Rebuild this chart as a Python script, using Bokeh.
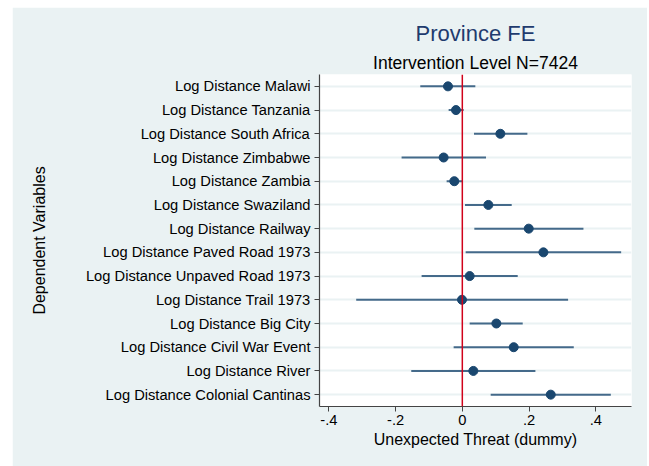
from bokeh.plotting import figure
from bokeh.models import FactorRange, Range1d, FixedTicker, Span, Title
from bokeh.embed import file_html
from bokeh.resources import INLINE

labels = [
    "Log Distance Malawi",
    "Log Distance Tanzania",
    "Log Distance South Africa",
    "Log Distance Zimbabwe",
    "Log Distance Zambia",
    "Log Distance Swaziland",
    "Log Distance Railway",
    "Log Distance Paved Road 1973",
    "Log Distance Unpaved Road 1973",
    "Log Distance Trail 1973",
    "Log Distance Big City",
    "Log Distance Civil War Event",
    "Log Distance River",
    "Log Distance Colonial Cantinas",
]
coef = [-0.043, -0.019, 0.114, -0.056, -0.024, 0.078, 0.199, 0.243, 0.022, -0.001, 0.102, 0.154, 0.033, 0.265]
ci_low = [-0.126, -0.041, 0.035, -0.182, -0.047, 0.008, 0.036, 0.010, -0.122, -0.318, 0.022, -0.026, -0.153, 0.085]
ci_high = [0.039, 0.004, 0.195, 0.071, 0.001, 0.148, 0.363, 0.476, 0.166, 0.317, 0.181, 0.334, 0.219, 0.445]
xticks = [-0.4, -0.2, 0, 0.2, 0.4]
xtick_labels = ["-.4", "-.2", "0", ".2", ".4"]

BG = "#eaf2f3"
NAVY = "#1a476f"
FONT = "Liberation Sans"

p = figure(
    width=635, height=459,
    y_range=FactorRange(factors=list(reversed(labels))),
    x_range=Range1d(-0.428, 0.507),
    output_backend="svg", toolbar_location=None,
    min_border_left=307, min_border_right=16, min_border_top=67, min_border_bottom=60,
    background_fill_color="white", border_fill_color=BG,
    outline_line_color=None,
)
p.margin = (7, 0, 0, 12)
p.title = None

p.add_layout(Title(text="Intervention Level N=7424", align="center", text_font=FONT,
                   text_font_size="17.5px", text_font_style="normal", text_color="black",
                   standoff=4), "above")
p.add_layout(Title(text="Province FE", align="center", text_font=FONT,
                   text_font_size="22px", text_font_style="normal", text_color="#1f3b6e",
                   standoff=6), "above")

p.segment(x0=ci_low, y0=labels, x1=ci_high, y1=labels, line_color=NAVY, line_alpha=0.8, line_width=2)
p.scatter(x=coef, y=labels, size=9, fill_color=NAVY, line_color=NAVY)
p.add_layout(Span(location=0, dimension="height", line_color="#d0021b", line_width=1.5))

p.xgrid.grid_line_color = None
p.ygrid.grid_line_color = BG
p.ygrid.grid_line_width = 2

p.xaxis.ticker = FixedTicker(ticks=xticks)
p.xaxis.major_label_overrides = {t: l for t, l in zip(xticks, xtick_labels)}
p.xaxis.axis_label = "Unexpected Threat (dummy)"
p.yaxis.axis_label = "Dependent Variables"

for ax in (p.xaxis, p.yaxis):
    ax.axis_line_color = "#444444"
    ax.axis_line_width = 1.2
    ax.major_tick_line_color = "#444444"
    ax.major_tick_out = 5
    ax.major_tick_in = 0
    ax.minor_tick_line_color = None
    ax.major_label_text_font = FONT
    ax.major_label_text_font_size = "14.7px"
    ax.major_label_text_color = "black"
    ax.axis_label_text_font = FONT
    ax.axis_label_text_font_size = "16px"
    ax.axis_label_text_font_style = "normal"
    ax.axis_label_text_color = "black"

p.xaxis.major_label_standoff = 3
p.xaxis.axis_label_standoff = 3
p.yaxis.major_label_standoff = 4
p.yaxis.axis_label_standoff = 35

open("out.html", "w").write(file_html(p, INLINE))
